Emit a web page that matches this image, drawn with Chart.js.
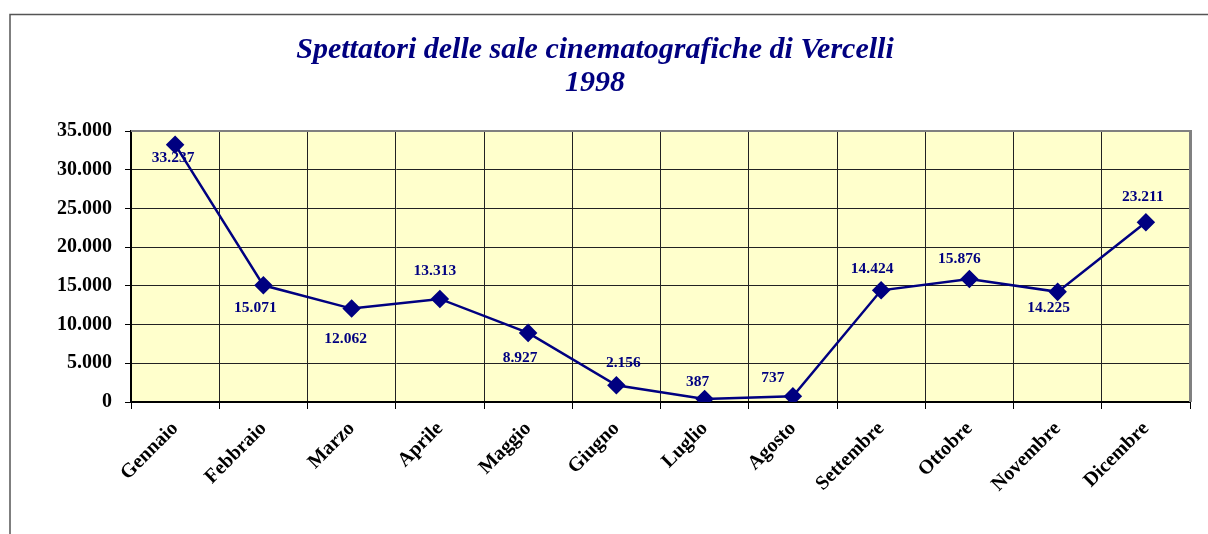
<!DOCTYPE html>
<html><head><meta charset="utf-8">
<script src="https://cdn.jsdelivr.net/npm/chart.js@4/dist/chart.umd.min.js"></script>
<style>html,body{margin:0;padding:0;background:#fff;overflow:hidden}</style>
</head><body><canvas id="c" width="1208" height="534"></canvas>
<script>
const months = ['Gennaio','Febbraio','Marzo','Aprile','Maggio','Giugno','Luglio','Agosto','Settembre','Ottobre','Novembre','Dicembre'];
const spettatori = [33237,15071,12062,13313,8927,2156,387,737,14424,15876,14225,23211];
const yTickValues = [0,5000,10000,15000,20000,25000,30000,35000];
const titleLines = ['Spettatori delle sale cinematografiche di Vercelli','1998'];

// label placement offsets (style only), relative to each point
const labelOffsets = [[-2,13],[-8,23],[-6,30],[-5,-28],[-8,25],[7,-22],[-7,-17],[-20,-18],[-9,-21],[-10,-20],[-9,16],[-3,-25]];

const NAVY = '#000080';
function fmt(v){ return String(v).replace(/\B(?=(\d{3})+(?!\d))/g,'.'); }

const framePlugin = {
  id:'frame',
  beforeDraw(chart){
    const ctx = chart.ctx, a = chart.chartArea;
    ctx.save();
    ctx.fillStyle='#fff'; ctx.fillRect(0,0,chart.width,chart.height);
    ctx.strokeStyle='#555'; ctx.lineWidth=1.5;
    ctx.beginPath(); ctx.moveTo(10,chart.height); ctx.lineTo(10,14.5); ctx.lineTo(chart.width,14.5); ctx.stroke();
    ctx.fillStyle='#FFFFCC'; ctx.fillRect(a.left,a.top,a.right-a.left,a.bottom-a.top);
    // title
    ctx.fillStyle=NAVY; ctx.font='bold italic 30px "Liberation Serif"';
    ctx.textAlign='center'; ctx.textBaseline='alphabetic';
    ctx.fillText(titleLines[0],595,58);
    ctx.fillText(titleLines[1],595,91);
    ctx.restore();
  },
  beforeDatasetsDraw(chart){
    const ctx = chart.ctx, a = chart.chartArea;
    ctx.save();
    ctx.strokeStyle='#808080'; ctx.lineWidth=2;
    ctx.beginPath(); ctx.moveTo(a.left,a.top); ctx.lineTo(a.right,a.top); ctx.stroke();
    ctx.lineWidth=3;
    ctx.beginPath(); ctx.moveTo(a.right+0.5,a.top-1); ctx.lineTo(a.right+0.5,a.bottom); ctx.stroke();
    ctx.restore();
  },
  afterDatasetsDraw(chart){
    const ctx = chart.ctx;
    const meta = chart.getDatasetMeta(0);
    ctx.save();
    ctx.fillStyle=NAVY; ctx.font='bold 15.5px "Liberation Serif"';
    ctx.textAlign='center'; ctx.textBaseline='middle';
    meta.data.forEach((p,i)=>{
      const o = labelOffsets[i];
      ctx.fillText(fmt(chart.data.datasets[0].data[i]), p.x+o[0], p.y+o[1]);
    });
    ctx.restore();
  }
};

new Chart(document.getElementById('c'), {
  type:'line',
  data:{ labels:months, datasets:[{
    data:spettatori, borderColor:NAVY, backgroundColor:NAVY, borderWidth:2.5,
    pointStyle:'rectRot', pointRadius:7.5, pointHoverRadius:7.5, pointBackgroundColor:NAVY, pointBorderColor:NAVY,
    tension:0, fill:false
  }]},
  options:{
    responsive:false, devicePixelRatio:1, animation:false,
    layout:{padding:{left:0,top:131,right:18,bottom:0}},
    plugins:{legend:{display:false}, title:{display:false}, tooltip:{enabled:false}},
    scales:{
      x:{
        offset:true,
        grid:{display:true, offset:true, color:'#222', lineWidth:1, drawTicks:true, tickLength:7, tickColor:'#000'},
        border:{display:true, color:'#000', width:2},
        ticks:{color:'#000', font:{family:'"Liberation Serif"', weight:'bold', size:20}, minRotation:45, maxRotation:45, padding:8, autoSkip:false},
        afterFit(s){ s.height = 132; }
      },
      y:{
        min:0, max:35000,
        afterBuildTicks(s){ s.ticks = yTickValues.map(v=>({value:v})); },
        grid:{color:'#222', lineWidth:1, drawTicks:true, tickLength:6, tickColor:'#000'},
        border:{display:true, color:'#000', width:2},
        ticks:{color:'#000', font:{family:'"Liberation Serif"', weight:'bold', size:20}, padding:13, callback:(v)=>fmt(v)},
        afterFit(s){ s.width = 131; }
      }
    }
  },
  plugins:[framePlugin]
});
</script></body></html>
